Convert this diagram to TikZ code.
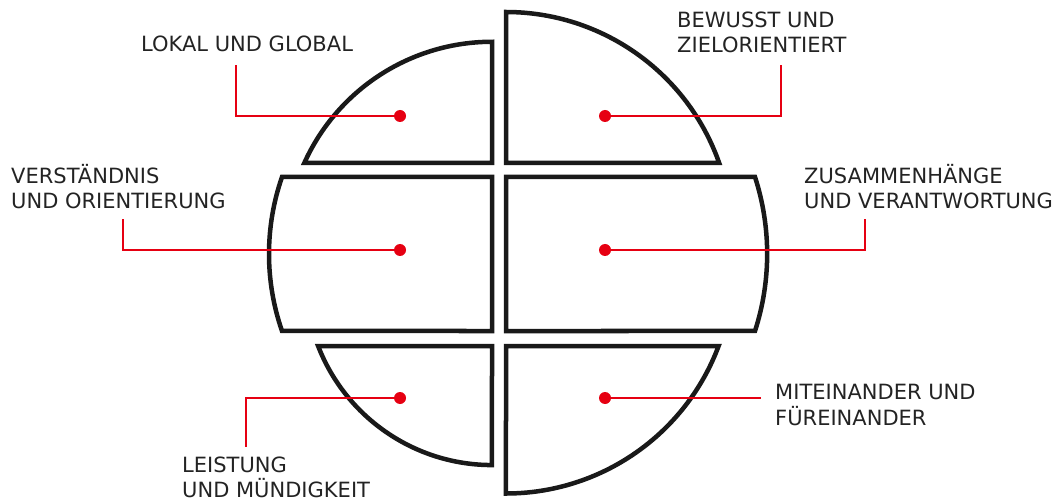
\documentclass[tikz,border=0pt]{standalone}
\usepackage{fontspec}
\setmainfont{DejaVu Sans}
\definecolor{dotred}{RGB}{230,0,18}
\definecolor{txtgray}{RGB}{35,35,35}
\begin{document}
\begin{tikzpicture}[x=1pt,y=1pt,
  piece/.style={draw=black!90,line width=4.5pt,line join=miter,fill=white},
  conn/.style={draw=dotred,line width=1.6pt},
  dot/.style={circle,fill=dotred,inner sep=0pt,minimum size=12pt},
  lbl/.style={anchor=base west,inner sep=0pt,align=left,text=txtgray,
    font=\fontsize{21}{25.5}\selectfont}]
\useasboundingbox (0,0) rectangle (1062,501);
% pieces
\draw[piece] (492,338) -- (304.3,338) arc[start angle=155.7,end angle=90,radius=206] -- cycle;
\draw[piece] (506,338) -- (506,489) arc[start angle=90,end angle=19.4,radius=226] -- cycle;
\draw[piece] (492,324) -- (282,324) arc[start angle=160.83,end angle=199.17,radius=234.5] -- (492,170) -- cycle;
\draw[piece] (506,324) -- (755,324) arc[start angle=17.94,end angle=-17.94,radius=250] -- (506,170) -- cycle;
\draw[piece] (492,155) -- (318.1,155) arc[start angle=201.2,end angle=270,radius=186.5] -- cycle;
\draw[piece] (506,155) -- (718.6,155) arc[start angle=-20.5,end angle=-90,radius=227] -- cycle;
% dots
\node[dot] (dTL) at (400,385) {};
\node[dot] (dTR) at (605,385) {};
\node[dot] (dML) at (400,251) {};
\node[dot] (dMR) at (605,251) {};
\node[dot] (dBL) at (400,103) {};
\node[dot] (dBR) at (605,103) {};
% connector ends
\coordinate (eTL) at (236,436);
\coordinate (eTR) at (781,436);
\coordinate (eML) at (123,282);
\coordinate (eMR) at (865,282);
\coordinate (eBL) at (246,54);
\coordinate (eBR) at (761,103);
\draw[conn] (dTL) -| (eTL);
\draw[conn] (dTR) -| (eTR);
\draw[conn] (dML) -| (eML);
\draw[conn] (dMR) -| (eMR);
\draw[conn] (dBL) -| (eBL);
\draw[conn] (dBR) -- (eBR);
% labels (anchor = baseline of last line)
\node[lbl] (tTL) at (141,449) {LOKAL UND GLOBAL};
\node[lbl] (tTR) at (677,448) {BEWUSST UND\\ZIELORIENTIERT};
\node[lbl] (tML) at (11,292) {VERSTÄNDNIS\\UND ORIENTIERUNG};
\node[lbl] (tMR) at (804,292) {ZUSAMMENHÄNGE\\UND VERANTWORTUNG};
\node[lbl] (tBL) at (182,3.5) {LEISTUNG\\UND MÜNDIGKEIT};
\node[lbl] (tBR) at (775,76) {MITEINANDER UND\\FÜREINANDER};
\end{tikzpicture}
\end{document}
